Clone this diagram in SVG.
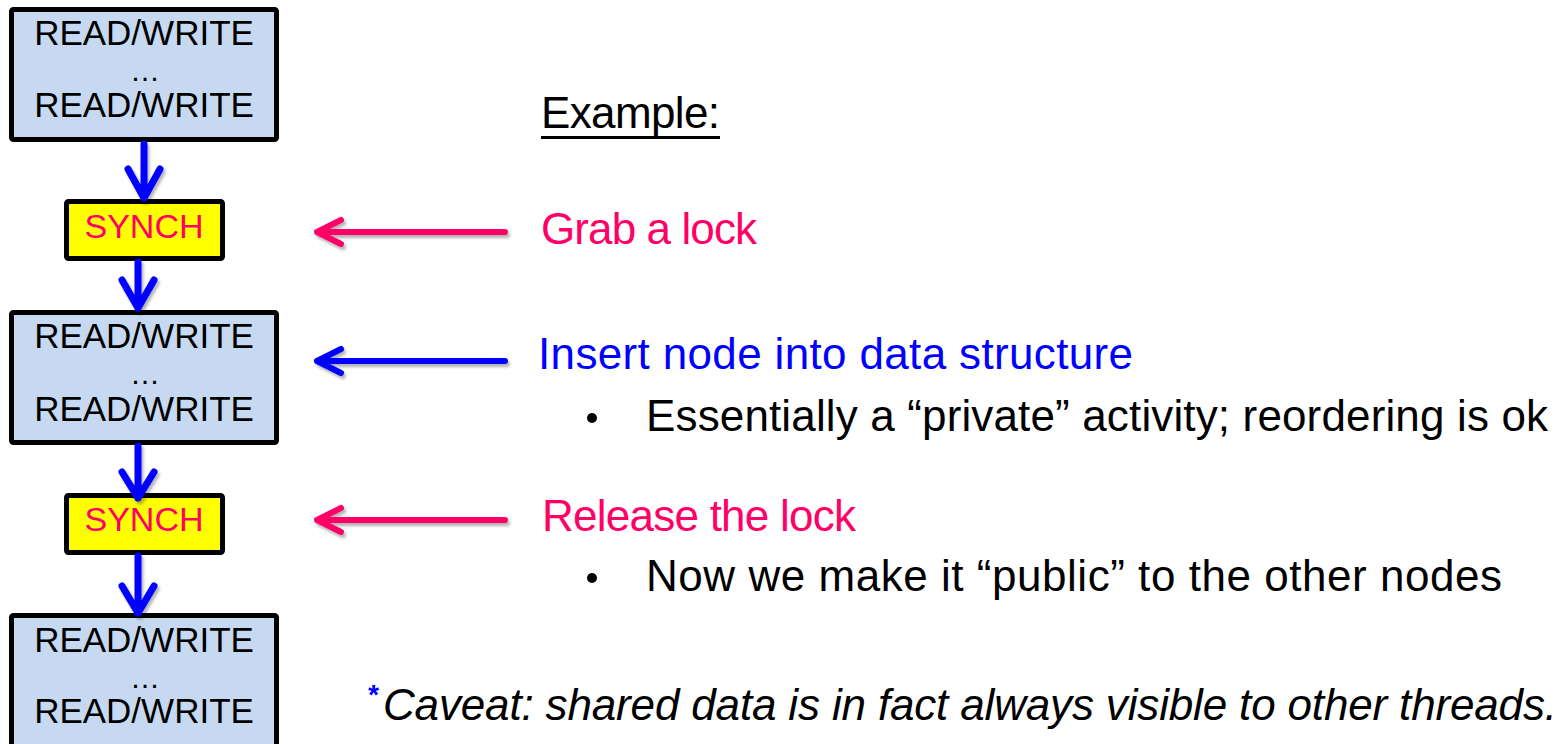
<svg xmlns="http://www.w3.org/2000/svg" width="1568" height="744" viewBox="0 0 1568 744">
  <defs>
    <filter id="shadow" x="-20%" y="-50%" width="140%" height="200%">
      <feDropShadow dx="2" dy="3" stdDeviation="1.5" flood-color="#000" flood-opacity="0.3"/>
    </filter>
  </defs>
  <style>
    .rw { fill: #c6d9f1; stroke: #000; stroke-width: 5; }
    .sy { fill: #ffff00; stroke: #000; stroke-width: 5; }
    .rwt { font-family: "Liberation Sans", Arial, sans-serif; font-size: 35px; fill: #000; text-anchor: middle; }
    .dots { font-family: "Liberation Sans", Arial, sans-serif; font-size: 30px; fill: #000; text-anchor: middle; }
    .syt { font-family: "Liberation Sans", Arial, sans-serif; font-size: 34px; fill: #ff0066; text-anchor: middle; }
    .lbl { font-family: "Liberation Sans", Arial, sans-serif; font-size: 44px; }
    .pink { fill: #ff0066; }
    .blue { fill: #0000ff; }
    .blk { fill: #000; }
    .va { fill: none; stroke: #0000ff; stroke-width: 7; stroke-linecap: round; stroke-linejoin: round; }
    .ha { fill: none; stroke-width: 6; stroke-linecap: round; stroke-linejoin: round; }
  </style>

  <g id="rw1">
    <rect class="rw" x="11.5" y="9.5" width="265" height="130" rx="2"/>
    <text class="rwt" x="144" y="45">READ/WRITE</text>
    <text class="dots" x="145" y="81">…</text>
    <text class="rwt" x="144" y="117">READ/WRITE</text>
  </g>
  <g id="synch1">
    <rect class="sy" x="66.5" y="201.5" width="156" height="57" rx="2"/>
    <text class="syt" x="144" y="238">SYNCH</text>
  </g>
  <g id="rw2">
    <rect class="rw" x="11.5" y="312.5" width="265" height="130" rx="2"/>
    <text class="rwt" x="144" y="348">READ/WRITE</text>
    <text class="dots" x="145" y="384">…</text>
    <text class="rwt" x="144" y="421">READ/WRITE</text>
  </g>
  <g id="synch2">
    <rect class="sy" x="66.5" y="495.5" width="156" height="57" rx="2"/>
    <text class="syt" x="144" y="531">SYNCH</text>
  </g>
  <g id="rw3">
    <rect class="rw" x="11.5" y="615.5" width="265" height="150" rx="2"/>
    <text class="rwt" x="144" y="652">READ/WRITE</text>
    <text class="dots" x="145" y="688">…</text>
    <text class="rwt" x="144" y="723">READ/WRITE</text>
  </g>

  <g id="connectors" filter="url(#shadow)">
    <path class="va" d="M144 144 V198 M128 169 L144 198 L160 169"/>
    <path class="va" d="M138 262 V308 M122 280 L138 308 L154 280"/>
    <path class="va" d="M138 446 V498 M122 472 L138 498 L154 472"/>
    <path class="va" d="M138 556 V613 M122 586 L138 613 L154 586"/>
    <path class="ha" stroke="#ff0066" d="M505 232 H317 M341 220 L317 232 L341 244"/>
    <path class="ha" stroke="#0000ff" d="M505 361 H317 M341 349 L317 361 L341 373"/>
    <path class="ha" stroke="#ff0066" d="M505 520 H317 M341 508 L317 520 L341 532"/>
  </g>

  <g id="text">
    <text class="lbl blk" x="541" y="128" textLength="179">Example:</text>
    <line x1="541" y1="137.5" x2="720" y2="137.5" stroke="#000" stroke-width="3"/>
    <text class="lbl pink" x="541" y="244" textLength="216">Grab a lock</text>
    <text class="lbl blue" x="538" y="369" textLength="595">Insert node into data structure</text>
    <circle cx="592" cy="418" r="5" fill="#000"/>
    <text class="lbl blk" x="646" y="431" textLength="902">Essentially a “private” activity; reordering is ok</text>
    <text class="lbl pink" x="542" y="531" textLength="314">Release the lock</text>
    <circle cx="592" cy="578" r="5" fill="#000"/>
    <text class="lbl blk" x="646" y="591" textLength="856">Now we make it “public” to the other nodes</text>
    <text class="blue" x="367" y="704" font-family="Liberation Sans, Arial, sans-serif" font-size="28" font-style="italic" font-weight="bold">*</text>
    <text class="lbl blk" x="383" y="720" font-style="italic" textLength="1174">Caveat: shared data is in fact always visible to other threads.</text>
  </g>
</svg>
